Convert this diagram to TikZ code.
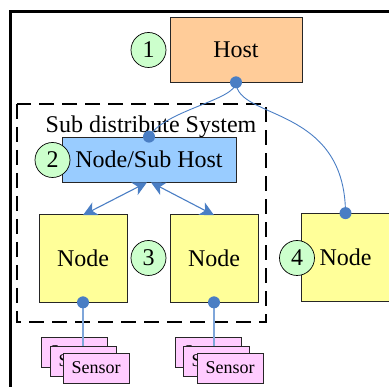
\documentclass[tikz,border=0pt]{standalone}
\usepackage{fontspec}
\setmainfont{Liberation Serif}
\newfontfamily\diagfont{Liberation Serif}
\usetikzlibrary{arrows.meta}
\definecolor{hostfill}{HTML}{FFCC99}
\definecolor{subfill}{HTML}{99CCFF}
\definecolor{nodefill}{HTML}{FFFF99}
\definecolor{numfill}{HTML}{CCFFCC}
\definecolor{sensfill}{HTML}{FFCCFF}
\definecolor{linkblue}{HTML}{4A7EC4}
\definecolor{paleblue}{HTML}{7FA6DA}
\begin{document}
\begin{tikzpicture}[x=1pt,y=-1pt,
  big/.style={font=\diagfont\fontsize{24}{28}\selectfont},
  box/.style={draw=black!85, line width=0.7pt, inner sep=0pt, big},
  hostbox/.style={box, fill=hostfill, minimum width=132pt, minimum height=65pt},
  subbox/.style={box, fill=subfill, minimum width=174pt, minimum height=45pt},
  unitbox/.style={box, fill=nodefill, minimum width=88pt, minimum height=88pt},
  sensbox/.style={box, fill=sensfill, minimum width=66pt, minimum height=30pt,
    font=\diagfont\fontsize{18}{21}\selectfont},
  num/.style={circle, draw=black, line width=0.7pt, fill=numfill, inner sep=0pt,
    minimum size=35pt, big},
  curvelink/.style={draw=linkblue, line width=0.9pt},
  biarrow/.style={draw=linkblue, line width=1.1pt,
    {Stealth[length=14pt,width=14pt,inset=4pt]}-{Stealth[length=14pt,width=14pt,inset=4pt]}},
  senslink/.style={draw=paleblue, line width=1.4pt},
  dot/.style={fill=linkblue},
  group/.style={draw=black, line width=2.5pt, dash pattern=on 15pt off 8pt}]

\useasboundingbox (0,0) rectangle (389,387);
\clip (0,0) rectangle (389,387);

% outer frame
\draw[line width=3pt] (10,11.5) rectangle (420,420);

% sub-system group
\draw[group] (17,104) rectangle (266,322);
\node[anchor=base, big] (grouplabel) at (151,133) {Sub distribute System};

% main boxes
\node[hostbox] (host) at (236,49.5) {Host};
\node[subbox] (sub) at (149,159.5) {Node/Sub Host};
\node[unitbox] (na) at (83,258) {Node};
\node[unitbox] (nb) at (214,258) {Node};
\node[unitbox] (nc) at (345.5,257.5) {Node};

% sensor stacks
\node[sensbox] (s1a) at (74,352) {Sensor};
\node[sensbox] (s1b) at (83,361) {Sensor};
\node[sensbox] (s1c) at (96,368) {Sensor};
\node[sensbox] (s2a) at (208,352) {Sensor};
\node[sensbox] (s2b) at (216,361) {Sensor};
\node[sensbox] (s2c) at (230,368) {Sensor};

% numbered markers
\node[num] (m1) at (148.5,50) {1};
\node[num] (m2) at (52.5,160) {2};
\node[num] (m3) at (148.5,258) {3};
\node[num] (m4) at (297,258) {4};

% links from the host
\draw[curvelink] (host.south) .. controls (236,100) and (165,110) .. (sub.north);
\draw[curvelink] (host.south) .. controls (237,120) and (345,105) .. (nc.north);

% links between sub host and nodes
\draw[biarrow] ([xshift=-2pt]sub.south) -- ([yshift=-1.5pt]na.north);
\draw[biarrow] ([xshift=2pt]sub.south) -- ([yshift=-1.5pt]nb.north);

% sensor links
\draw[senslink] (na.south) -- (s1b.north);
\draw[senslink] (nb.south) -- (nb.south |- s2b.north);

% connection points
\fill[dot] (host.south) circle (6pt);
\fill[dot] (sub.north) circle (6pt);
\fill[dot] (nc.north) circle (6pt);
\fill[dot] (na.south) circle (6pt);
\fill[dot] (nb.south) circle (6pt);
\end{tikzpicture}
\end{document}
